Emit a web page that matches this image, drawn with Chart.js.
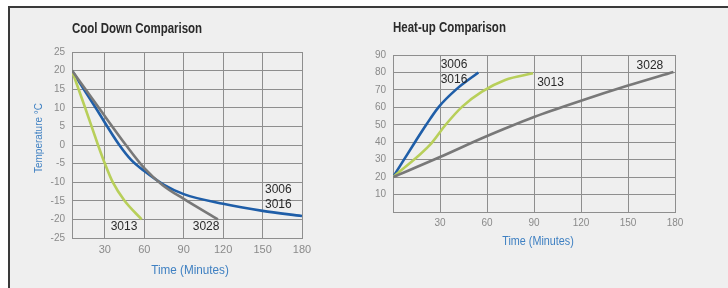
<!DOCTYPE html>
<html>
<head>
<meta charset="utf-8">
<script src="https://cdn.jsdelivr.net/npm/chart.js@4"></script>
<style>
  html, body { margin: 0; padding: 0; background: #ffffff; }
  body { width: 728px; height: 288px; position: relative; overflow: hidden; }
  #frame { position: absolute; left: 8px; top: 6px; right: 0; bottom: 0;
           background: #efefef; border-top: 2px solid #3a3a3a; border-left: 2px solid #3a3a3a; }
  canvas { position: absolute; }
  #coolWrap { position: absolute; left: 10px; top: 8px; width: 354px; height: 280px; }
  #heatWrap { position: absolute; left: 364px; top: 8px; width: 364px; height: 280px; }
</style>
</head>
<body>
<div id="frame"></div>
<div id="coolWrap"><canvas id="cool" width="354" height="280"></canvas></div>
<div id="heatWrap"><canvas id="heat" width="364" height="280"></canvas></div>
<script>
// ---------- DATA ----------
const coolXTicks = [30, 60, 90, 120, 150, 180];
const coolYTicks = [25, 20, 15, 10, 5, 0, -5, -10, -15, -20, -25];
const heatXTicks = [30, 60, 90, 120, 150, 180];
const heatYTicks = [10, 20, 30, 40, 50, 60, 70, 80, 90];

// Cool down (time in minutes, temperature °C)
const cool3006_3016_time = [5, 23, 41, 50, 60, 75, 90, 120, 150, 180];
const cool3006_3016_temp = [20, 10, 0, -4, -7, -10.7, -13.2, -15.8, -17.7, -19.1];
const cool3013_time = [5, 15, 24.8, 30, 36, 45, 58];
const cool3013_temp = [20, 10, 0, -5, -10, -15, -20];
const cool3028_time = [5, 25, 46, 60, 74, 90, 116];
const cool3028_temp = [20, 10.2, 0, -6.2, -10.8, -14.5, -20];

// Heat up
const heat3006_3016_time = [0, 7, 14, 21.2, 29, 40, 54.5];
const heat3006_3016_temp = [20, 30, 40, 50, 60, 70, 80];
const heat3013_time = [0, 24.5, 33.6, 44.2, 56.8, 71.6, 89.4];
const heat3013_temp = [20, 39.4, 50, 60.4, 69, 75.7, 79.5];
const heat3028_time = [0, 30, 56, 70, 90, 120, 150, 179];
const heat3028_temp = [20, 31.5, 42, 47.3, 54.5, 63.8, 72.5, 80.3];

const seriesNames = ['3006 / 3016', '3013', '3028'];

// ---------- STYLE ----------
const BLUE = '#1f5ea8', GREEN = '#b8cf5a', GRAY = '#787878';
const GRID = '#8e8e8e', TICK = '#8a8a8a', AXIS_TITLE = '#3f80c2', INK = '#2a2a2a';
const SANS = "'Liberation Sans', Arial, Helvetica, sans-serif";

function pts(xs, ys) { return xs.map((x, i) => ({ x, y: ys[i] })); }
function ds(label, xs, ys, color) {
  return { label, data: pts(xs, ys), borderColor: color, borderWidth: 2.6,
           pointRadius: 0, fill: false, cubicInterpolationMode: 'monotone' };
}

function drawText(ctx, text, x, y, opts) {
  ctx.save();
  ctx.translate(x, y);
  if (opts.rotate) ctx.rotate(opts.rotate);
  ctx.scale(opts.sx || 1, 1);
  ctx.font = opts.font;
  ctx.fillStyle = opts.color;
  ctx.textAlign = opts.align || 'left';
  ctx.textBaseline = 'middle';
  ctx.fillText(text, 0, 0);
  ctx.restore();
}

// plugin: titles, axis titles and curve labels
const textPlugin = {
  id: 'texts',
  afterDatasetsDraw(chart) {
    const cfg = chart.options.plugins.texts;
    const ctx = chart.ctx;
    const xs = chart.scales.x, ys = chart.scales.y;
    (cfg.fixed || []).forEach(t => drawText(ctx, t.text, t.px, t.py, t));
    (cfg.labels || []).forEach(t =>
      drawText(ctx, t.text, xs.getPixelForValue(t.x), ys.getPixelForValue(t.y),
               { font: '12px ' + SANS, color: INK, align: t.align || 'center' }));
  }
};

function baseScales(xMin, xMax, xTicks, yMin, yMax, yTicks, yWidth, xHeight, xFont) {
  return {
    x: {
      type: 'linear', min: xMin, max: xMax,
      afterBuildTicks: a => { a.ticks = xTicks.map(v => ({ value: v })); },
      afterFit: s => { s.height = xHeight; },
      grid: { color: GRID, lineWidth: 1, drawTicks: false },
      border: { display: true, color: GRID, width: 1 },
      ticks: { color: TICK, font: { family: SANS, size: xFont }, padding: 5, maxRotation: 0 }
    },
    y: {
      type: 'linear', min: yMin, max: yMax,
      afterBuildTicks: a => { a.ticks = yTicks.map(v => ({ value: v })); },
      afterFit: s => { s.width = yWidth; },
      grid: { color: GRID, lineWidth: 1, drawTicks: false },
      border: { display: true, color: GRID, width: 1 },
      ticks: { color: TICK, font: { family: SANS, size: 10 }, padding: 7 }
    }
  };
}

// ---------- COOL DOWN ----------
new Chart(document.getElementById('cool'), {
  type: 'line',
  data: { datasets: [
    ds(seriesNames[2], cool3028_time, cool3028_temp, GRAY),
    ds(seriesNames[1], cool3013_time, cool3013_temp, GREEN),
    ds(seriesNames[0], cool3006_3016_time, cool3006_3016_temp, BLUE)
  ] },
  options: {
    responsive: false, animation: false,
    layout: { padding: { left: 0, top: 44, right: 62, bottom: 0 } },
    scales: baseScales(5, 180, coolXTicks, -25, 25, coolYTicks, 62, 50, 11),
    plugins: {
      legend: { display: false }, tooltip: { enabled: false },
      texts: {
        fixed: [
          { text: 'Cool Down Comparison', px: 62, py: 21, font: 'bold 14px ' + SANS, color: INK, sx: 0.82 },
          { text: 'Time (Minutes)', px: 180, py: 262, font: '13px ' + SANS, color: AXIS_TITLE, align: 'center', sx: 0.9 },
          { text: 'Temperature °C', px: 29, py: 130, font: '10px ' + SANS, color: AXIS_TITLE, align: 'center', rotate: -Math.PI / 2 }
        ],
        labels: [
          { text: '3013', x: 44.6, y: -22 },
          { text: '3028', x: 107, y: -22 },
          { text: '3006', x: 162, y: -12.1 },
          { text: '3016', x: 162, y: -16.1 }
        ]
      }
    }
  },
  plugins: [textPlugin]
});

// ---------- HEAT UP ----------
new Chart(document.getElementById('heat'), {
  type: 'line',
  data: { datasets: [
    ds(seriesNames[2], heat3028_time, heat3028_temp, GRAY),
    ds(seriesNames[1], heat3013_time, heat3013_temp, GREEN),
    ds(seriesNames[0], heat3006_3016_time, heat3006_3016_temp, BLUE)
  ] },
  options: {
    responsive: false, animation: false,
    layout: { padding: { left: 0, top: 47, right: 53, bottom: 0 } },
    scales: baseScales(0, 180, heatXTicks, 0, 90, heatYTicks, 29, 76, 10),
    plugins: {
      legend: { display: false }, tooltip: { enabled: false },
      texts: {
        fixed: [
          { text: 'Heat-up Comparison', px: 29, py: 20, font: 'bold 14px ' + SANS, color: INK, sx: 0.82 },
          { text: 'Time (Minutes)', px: 174, py: 234, font: '12px ' + SANS, color: AXIS_TITLE, align: 'center', sx: 0.9 }
        ],
        labels: [
          { text: '3006', x: 30.4, y: 84.3, align: 'left' },
          { text: '3016', x: 30.4, y: 75.7, align: 'left' },
          { text: '3013', x: 92, y: 74, align: 'left' },
          { text: '3028', x: 164, y: 83.7 }
        ]
      }
    }
  },
  plugins: [textPlugin]
});
</script>
</body>
</html>
